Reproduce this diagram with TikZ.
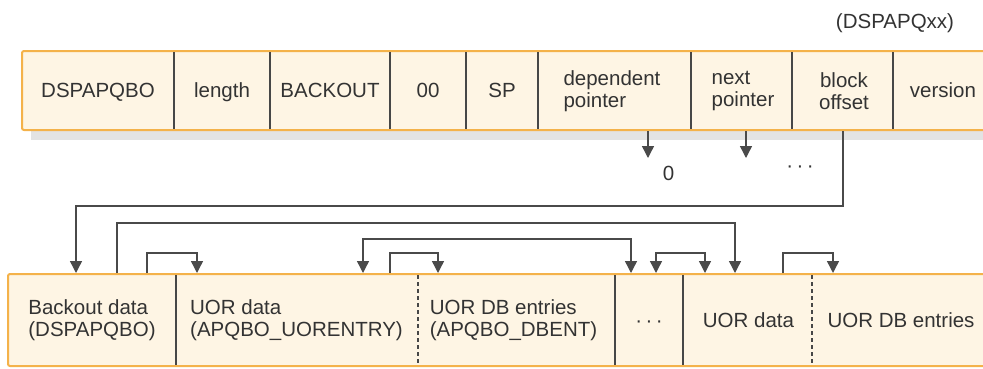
\documentclass[tikz,border=0pt]{standalone}
\usepackage{fontspec}
\setmainfont{Liberation Sans}
\usetikzlibrary{arrows.meta}
\definecolor{cream}{HTML}{FEF5E4}
\definecolor{orng}{HTML}{F4B24A}
\definecolor{ink}{HTML}{333333}
\definecolor{wirec}{HTML}{4A4A4A}
\definecolor{shad}{HTML}{E3E3E3}
\begin{document}
\begin{tikzpicture}[x=1pt,y=-1pt,
  font=\fontsize{20.5}{22.5}\selectfont,
  txt/.style={text=ink,inner sep=0pt},
  mtxt/.style={text=ink,inner sep=0pt,align=left},
  rowbox/.style={fill=cream,draw=orng,line width=2pt,rounded corners=2pt},
  div/.style={draw=ink!90,line width=1.2pt},
  ddiv/.style={draw=ink!90,line width=1.2pt,dash pattern=on 4pt off 3pt},
  wire/.style={draw=wirec,line width=1.4pt},
  tip/.tip={Triangle[width=12pt,length=12pt]}]
\useasboundingbox (0,0) rectangle (983,368);
% caption
\node[txt,anchor=base] (cap) at (895,28) {(DSPAPQxx)};
% top row
\fill[shad] (31,60) rectangle (1000,140);
\draw[rowbox] (22,51) rectangle (1005,130);
\coordinate (t0) at (22,51);
\foreach \n/\x in {t1/174,t2/270,t3/390,t4/466,t5/538,t6/691,t7/792,t8/893}{
  \coordinate (\n) at (\x,51);
  \draw[div] (\x,52) -- (\x,129);
}
\node[txt,anchor=base] (f1) at (98,97) {DSPAPQBO};
\node[txt,anchor=base] (f2) at (222,97) {length};
\node[txt,anchor=base] (f3) at (330,97) {BACKOUT};
\node[txt,anchor=base] (f4) at (428,97) {00};
\node[txt,anchor=base] (f5) at (502,97) {SP};
\node[mtxt] (f6) at (612,91) {dependent\\pointer};
\node[mtxt] (f7) at (743,91) {next\\pointer};
\node[mtxt,align=center] (f8) at (844,91) {block\\offset};
\node[txt,anchor=base] (f9) at (943,97) {version};
% pointers from top row
\coordinate (dpS) at (648,131);
\coordinate (dpE) at (648,158);
\coordinate (npS) at (746,131);
\coordinate (npE) at (746,158);
\coordinate (boS) at (843,131);
\draw[wire,-{tip}] (dpS) -- (dpE);
\draw[wire,-{tip}] (npS) -- (npE);
\node[txt,anchor=base] (zero) at (668.5,180) {0};
\node[txt,anchor=base] (tdots) at (800,172) {·\,·\,·};
% bottom row
\draw[rowbox] (8,274) rectangle (1005,366);
\draw[div] (176,275) -- (176,365);
\draw[ddiv] (418,275) -- (418,365);
\draw[div] (615,275) -- (615,365);
\draw[div] (683,275) -- (683,365);
\draw[ddiv] (812,275) -- (812,365);
\node[mtxt] (b1) at (92,320) {Backout data\\(DSPAPQBO)};
\node[mtxt] (b2) at (296.5,320) {UOR data\\(APQBO\_UORENTRY)};
\node[mtxt] (b3) at (513.5,320) {UOR DB entries\\(APQBO\_DBENT)};
\node[txt,anchor=base] (b4) at (649,327) {·\,·\,·};
\node[txt,anchor=base] (b5) at (748.5,327) {UOR data};
\node[txt,anchor=base] (b6) at (901,327) {UOR DB entries};
% bottom attach points
\foreach \x in {76,117,147,197,363,390,438,631,656,705,735,783,833}{
  \coordinate (p\x) at (\x,273);
}
\draw[wire,-{tip}] (boS) -- ++(0,75) -| (p76);
\draw[wire,-{tip}] (p117) -- ++(0,-50) -| (p735);
\draw[wire,{tip}-{tip}] (p363) -- ++(0,-34) -| (p631);
\draw[wire,-{tip}] (p147) -- ++(0,-20) -| (p197);
\draw[wire,-{tip}] (p390) -- ++(0,-20) -| (p438);
\draw[wire,{tip}-{tip}] (p656) -- ++(0,-20) -| (p705);
\draw[wire,-{tip}] (p783) -- ++(0,-20) -| (p833);
\end{tikzpicture}
\end{document}
